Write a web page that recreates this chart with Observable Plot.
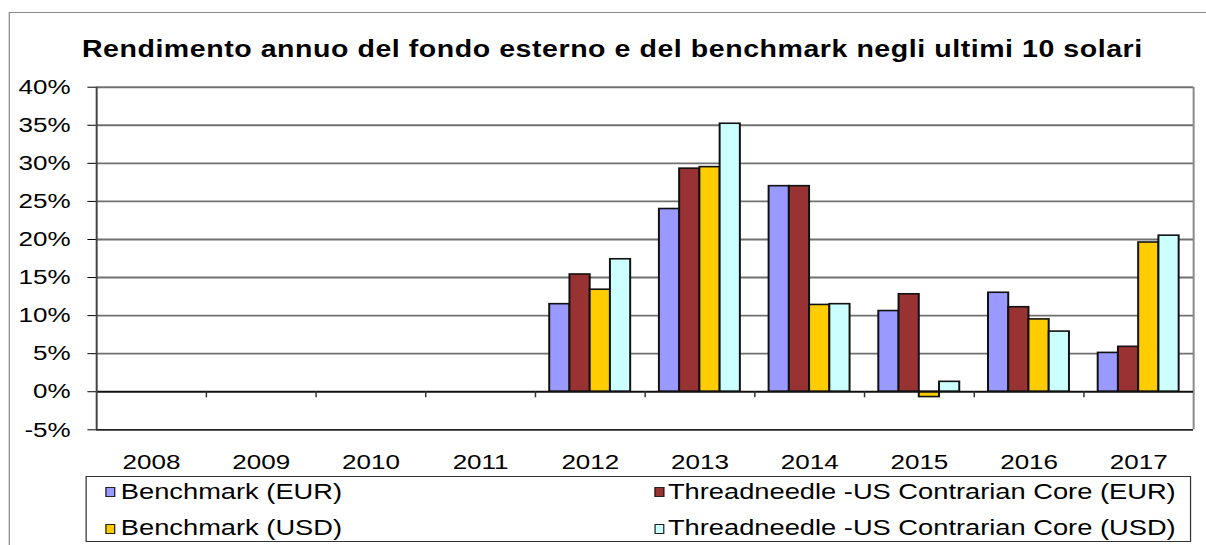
<!DOCTYPE html>
<html>
<head>
<meta charset="utf-8">
<script src="https://cdn.jsdelivr.net/npm/d3@7"></script>
<script src="https://cdn.jsdelivr.net/npm/@observablehq/plot@0.6"></script>
<style>
  html, body { margin: 0; padding: 0; background: #fff; overflow: hidden; }
  #wrap { position: relative; width: 973px; height: 545px; transform: scaleX(1.2395); transform-origin: 0 0;
          font-family: "Liberation Sans", Arial, sans-serif; color: #000; }
  #frame { position: absolute; left: 7px; top: 12px; width: 1000px; height: 600px; border: 1.5px solid #8a8a8a; box-sizing: border-box; }
  #title { position: absolute; left: 0; top: 38px; width: 988px; text-align: center; font-weight: bold; font-size: 23px; line-height: 23px; letter-spacing: 0.45px; white-space: nowrap; }
  #chart { position: absolute; left: 0; top: 0; }
  #legend { position: absolute; left: 69.4px; top: 476px; width: 891.5px; height: 66px; border: 1.5px solid #333; box-sizing: border-box; }
  .li { position: absolute; font-size: 22px; line-height: 22px; white-space: nowrap; }
  .sw { position: absolute; width: 8px; height: 10px; border: 1.3px solid #222; box-sizing: border-box; }
</style>
</head>
<body>
<div id="wrap">
  <div id="frame"></div>
  <div id="title">Rendimento annuo del fondo esterno e del benchmark negli ultimi 10 solari</div>
  <div id="chart"></div>
  <div id="legend"></div>
</div>
<script>
const years = ["2008", "2009", "2010", "2011", "2012", "2013", "2014", "2015", "2016", "2017"];
const seriesNames = [
  "Benchmark (EUR)",
  "Threadneedle -US Contrarian Core (EUR)",
  "Benchmark (USD)",
  "Threadneedle -US Contrarian Core (USD)"
];
const seriesColors = ["#9999FF", "#993333", "#FFCC00", "#CCFFFF"];
const benchmarkEUR = [null, null, null, null, 11.5, 24.0, 27.0, 10.6, 13.0, 5.1];
const fundEUR      = [null, null, null, null, 15.4, 29.3, 27.0, 12.8, 11.1, 5.9];
const benchmarkUSD = [null, null, null, null, 13.4, 29.5, 11.4, -0.7, 9.5, 19.6];
const fundUSD      = [null, null, null, null, 17.4, 35.2, 11.5, 1.3, 7.9, 20.5];
const yTicks = [-5, 0, 5, 10, 15, 20, 25, 30, 35, 40];

const allSeries = [benchmarkEUR, fundEUR, benchmarkUSD, fundUSD];
const groupFrac = 0.738;               // share of each year slot taken by the group of bars
const barW = groupFrac / seriesNames.length;
const rows = [];
allSeries.forEach((vals, si) => {
  vals.forEach((v, yi) => {
    if (v == null) return;
    const x1 = yi - groupFrac / 2 + si * barW;
    rows.push({year: years[yi], series: seriesNames[si], value: v, x1, x2: x1 + barW});
  });
});
const bounds = d3.range(years.length + 1).map(i => i - 0.5);

const chart = Plot.plot({
  width: 973,
  height: 480,
  marginTop: 86.7,
  marginBottom: 50.7,
  marginLeft: 77.5,
  marginRight: 10.5,
  style: {fontSize: "21px", fontFamily: "'Liberation Sans', Arial, sans-serif", color: "#000", background: "transparent", overflow: "visible"},
  x: {domain: [-0.5, years.length - 0.5], axis: null},
  y: {domain: [-5, 40], ticks: yTicks, tickFormat: d => d + "%", tickSize: 7, tickPadding: 14, label: null},
  color: {domain: seriesNames, range: seriesColors},
  marks: [
    Plot.ruleY(yTicks.filter(t => t > -5 && t !== 0), {stroke: "#707070", strokeWidth: 1.9}),
    Plot.ruleX([bounds[bounds.length - 1]], {stroke: "#8a8a8a", strokeWidth: 1.6}),
    Plot.rect(rows, {x1: "x1", x2: "x2", y1: () => 0, y2: "value", fill: "series", stroke: "#111", strokeWidth: 1.6}),
    Plot.ruleY([0], {stroke: "#111", strokeWidth: 1.8}),
    Plot.ruleY([-5], {stroke: "#222", strokeWidth: 1.8}),
    Plot.ruleX(bounds.slice(1, -1), {y1: () => 0, y2: () => -0.8, stroke: "#333", strokeWidth: 1.2}),
    Plot.ruleX([bounds[0]], {stroke: "#444", strokeWidth: 1.6}),
    Plot.text(years, {x: (d, i) => i, y: () => -5, dy: 32, text: d => d, fontSize: 21, fill: "#000"})
  ]
});
document.getElementById("chart").appendChild(chart);

// legend
const legend = document.getElementById("legend");
const colLeft = [14.6, 458];   // relative to legend box
const rowTop = [4.2, 40.4];
seriesNames.forEach((name, i) => {
  const col = i % 2, row = Math.floor(i / 2);
  const sw = document.createElement("div");
  sw.className = "sw";
  sw.style.left = colLeft[col] + "px";
  sw.style.top = (rowTop[row] + 6.2) + "px";
  sw.style.background = seriesColors[i];
  legend.appendChild(sw);
  const t = document.createElement("div");
  t.className = "li";
  t.style.left = (colLeft[col] + (col === 0 ? 12.5 : 10.5)) + "px";
  t.style.top = rowTop[row] + "px";
  t.textContent = name;
  legend.appendChild(t);
});
</script>
</body>
</html>
